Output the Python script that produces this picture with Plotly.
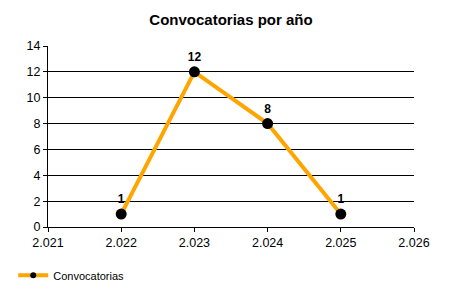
import plotly.graph_objects as go

years = [2022, 2023, 2024, 2025]
counts = [1, 12, 8, 1]
x_tickvals = [2021, 2022, 2023, 2024, 2025, 2026]
x_ticktext = ["2.021", "2.022", "2.023", "2.024", "2.025", "2.026"]
y_tickvals = [0, 2, 4, 6, 8, 10, 12, 14]

fig = go.Figure()
fig.add_trace(go.Scatter(
    x=years, y=counts, mode="lines+markers+text",
    name="Convocatorias", showlegend=False,
    line=dict(color="#FFA500", width=4),
    marker=dict(color="black", size=11),
    text=[str(v) for v in counts],
    textposition="top center",
    textfont=dict(family="Liberation Sans, Arial", size=12, color="black", weight="bold"),
    cliponaxis=False,
))
fig.add_trace(go.Scatter(
    x=[None], y=[None], mode="lines+markers", name="Convocatorias",
    line=dict(color="#FFA500", width=4),
    marker=dict(color="black", size=6),
    showlegend=True,
))

fig.update_layout(
    width=450, height=300,
    margin=dict(l=48, r=36, t=46, b=72),
    paper_bgcolor="white", plot_bgcolor="white",
    font=dict(family="Liberation Sans, Arial", size=12, color="black"),
    title=dict(text="<b>Convocatorias por año</b>", x=0.5, xanchor="center",
               y=1 - 20 / 300, yanchor="middle", xref="paper",
               font=dict(size=15, color="black")),
    showlegend=True,
    legend=dict(x=-0.095, y=-0.26, xanchor="left", yanchor="middle",
                orientation="h", font=dict(size=11), bgcolor="rgba(0,0,0,0)",
                itemwidth=30),
    xaxis=dict(range=[2021, 2026], tickvals=x_tickvals, ticktext=x_ticktext,
               showgrid=False, zeroline=False, showline=True, linecolor="black",
               linewidth=1, ticks="outside", ticklen=4, tickcolor="black",
               tickfont=dict(size=12.5)),
    yaxis=dict(range=[0, 14], tickvals=y_tickvals, showgrid=True,
               gridcolor="black", gridwidth=1, zeroline=False, showline=True,
               linecolor="black", linewidth=1, ticks="outside", ticklen=4,
               tickcolor="black", tickfont=dict(size=12.5)),
)

fig.write_html("out.html")
